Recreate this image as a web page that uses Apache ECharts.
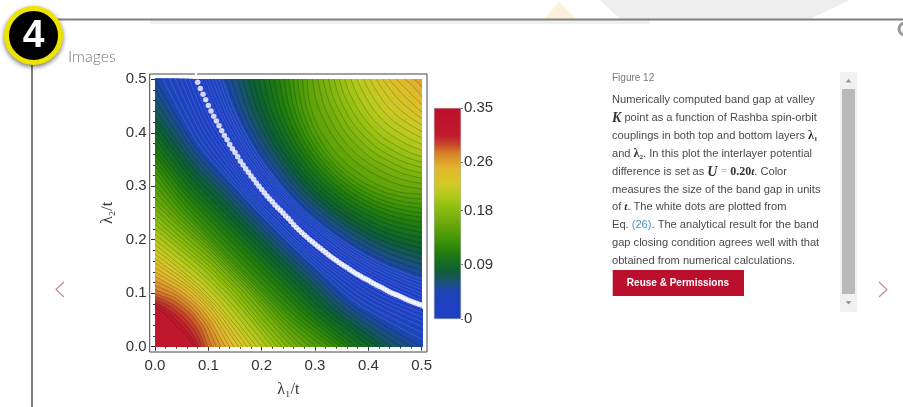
<!DOCTYPE html>
<html><head><meta charset="utf-8">
<style>html,body{margin:0;padding:0;background:#fff}#c{width:903px;height:407px}</style>
<script src="https://cdn.jsdelivr.net/npm/echarts@6/dist/echarts.min.js"></script>
</head><body><div id="c"></div>
<script>
const xTicks=[0,0.1,0.2,0.3,0.4,0.5];
const minorTicks=[0.02,0.04,0.06,0.08,0.12,0.14,0.16,0.18,0.22,0.24,0.26,0.28,0.32,0.34,0.36,0.38,0.42,0.44,0.46,0.48];
const barTicks=[0,0.09,0.18,0.26,0.35];
const rayAngles=[0,11.25,22.5,33.75,45];
const levelStep=0.00625;
// contour radii around the (0,0) corner, one row per level (k x levelStep), ascending
const lowerRadii=[
[.710,.461,.382,.349,.342],[.680,.450,.376,.344,.337],[.650,.438,.370,.340,.333],[.620,.427,.364,.335,.328],
[.590,.416,.357,.331,.324],[.560,.404,.351,.327,.320],[.530,.393,.345,.322,.315],[.500,.382,.339,.318,.311],
[.481,.373,.332,.311,.304],[.462,.363,.324,.304,.298],[.444,.354,.317,.297,.291],[.430,.345,.309,.290,.284],
[.417,.335,.300,.282,.277],[.404,.326,.292,.275,.270],[.391,.317,.284,.267,.262],[.378,.308,.276,.260,.255],
[.368,.299,.268,.252,.247],[.358,.291,.260,.245,.240],[.348,.282,.252,.237,.232],[.338,.273,.244,.229,.225],
[.328,.265,.237,.222,.218],[.315,.258,.232,.218,.214],[.302,.250,.226,.213,.209],[.290,.243,.221,.209,.205],
[.277,.236,.215,.205,.200],[.268,.230,.210,.200,.196],[.257,.222,.203,.194,.190],[.248,.214,.196,.188,.184],
[.238,.207,.190,.182,.178],[.229,.200,.184,.176,.173],[.220,.193,.178,.170,.166],[.210,.184,.170,.162,.160],
[.200,.176,.163,.156,.153],[.191,.168,.155,.149,.147],[.182,.161,.148,.142,.140],[.173,.154,.143,.137,.135],
[.165,.147,.138,.132,.131],[.157,.141,.132,.128,.126],[.148,.134,.127,.123,.122],[.140,.128,.122,.118,.117],
[.132,.121,.116,.113,.112],[.123,.115,.110,.107,.107],[.115,.108,.105,.102,.101],[.107,.101,.099,.096,.096],
[.099,.095,.093,.091,.091],[.094,.089,.086,.084,.084],[.088,.083,.080,.077,.077],[.083,.077,.073,.071,.070],
[.078,.072,.067,.064,.063],[.074,.067,.062,.058,.056]];
// contour radii around the (0.5,0.5) corner, same level numbering
const upperRadii=[
[.413,.387,.369,.357,.355],[.406,.381,.364,.353,.351],[.400,.376,.359,.349,.347],[.393,.370,.354,.344,.342],
[.387,.365,.350,.340,.338],[.380,.360,.345,.336,.334],[.374,.354,.340,.332,.330],[.367,.348,.335,.327,.325],
[.357,.340,.327,.320,.318],[.346,.331,.319,.312,.311],[.336,.322,.311,.305,.304],[.326,.313,.304,.298,.297],
[.316,.305,.296,.291,.290],[.306,.296,.288,.284,.283],[.296,.288,.281,.277,.276],[.286,.279,.273,.270,.269],
[.277,.271,.266,.263,.262],[.267,.262,.258,.256,.255],[.258,.254,.251,.249,.248],[.250,.246,.244,.242,.242],
[.241,.239,.237,.236,.235],[.233,.231,.230,.229,.229],[.224,.223,.222,.222,.222],[.215,.215,.214,.212,.212],
[.205,.202,.199,.198,.198],[.195,.191,.188,.186,.186],[.185,.180,.176,.175,.174],[.175,.170,.165,.164,.163],
[.165,.159,.155,.153,.152],[.155,.149,.144,.142,.141],[.145,.138,.133,.131,.130],[.133,.126,.121,.119,.118],
[.122,.114,.109,.107,.106],[.110,.102,.097,.095,.094],[.098,.090,.085,.083,.082],[.086,.078,.073,.071,.070],
[.074,.066,.061,.059,.058],[.062,.054,.049,.047,.046],[.048,.041,.037,.035,.034],[.033,.027,.024,.022,.022],
[.016,.013,.011,.010,.010]];
const dotX=[.08,.085,.09,.095,.1,.105,.11,.115,.12,.125,.13,.135,.14,.145,.15,.155,.16,.165,.17,.175,.18,.185,.19,.195,.2,.205,.21,.215,.22,.225,.23,.235,.24,.245,.25,.255,.26,.265,.27,.275,.28,.285,.29,.295,.3,.305,.31,.315,.32,.325,.33,.335,.34,.345,.35,.355,.36,.365,.37,.375,.38,.385,.39,.395,.4,.405,.41,.415,.42,.425,.43,.435,.44,.445,.45,.455,.46,.465,.47,.475,.48,.485,.49,.495,.5];
const dotY=[.4945,.483,.472,.462,.451,.441,.431,.422,.413,.404,.395,.387,.378,.37,.363,.355,.347,.34,.333,.326,.319,.313,.306,.3,.294,.288,.282,.276,.271,.265,.26,.255,.25,.2445,.2395,.234,.228,.223,.218,.2135,.209,.2045,.2,.196,.192,.188,.184,.18,.176,.172,.168,.1645,.161,.1575,.154,.151,.148,.1445,.141,.138,.135,.132,.129,.1265,.124,.121,.118,.1155,.113,.1105,.108,.105,.102,.1,.098,.096,.094,.0915,.089,.087,.085,.083,.081,.0795,.078];
const colorValues=[0,.044,.059,.08,.108,.13,.158,.185,.208,.225,.25,.275,.29,.305,.35];
const colorHex=['#1f3ec6','#1d44b8','#1a4f80','#0d5f35','#1f7a10','#3d9408','#6aa80a','#8fbe10','#b9ca1e','#d2c828','#e3b82d','#d8802a','#c4452a','#bf1a2c','#bf0f2a'];
const captionLines=[
'Numerically computed band gap at valley',
'{m|K} point as a function of Rashba spin-orbit',
'couplings in both top and bottom layers {s|λ₁}',
'and {s|λ₂}. In this plot the interlayer potential',
'difference is set as {m|U}{e| = }{b|0.20}{i|t}. Color',
'measures the size of the band gap in units',
'of {i|t}. The white dots are plotted from',
'Eq. {l|(26)}. The analytical result for the band',
'gap closing condition agrees well with that',
'obtained from numerical calculations.'];
const captionY=[100,118,136,154,172,190,207,225,243,261];

const rad=d=>d*Math.PI/180;
function colorAt(v){
  for(let i=1;i<colorValues.length;i++){
    if(v<=colorValues[i]){
      const t=(v-colorValues[i-1])/(colorValues[i]-colorValues[i-1]);
      return echarts.color.lerp(t,[colorHex[i-1],colorHex[i]]);
    }
  }
  return colorHex[colorHex.length-1];
}
function lowerCurve(r){
  const p=[];
  for(let j=0;j<5;j++)p.push([r[j]*Math.sin(rad(rayAngles[j])),r[j]*Math.cos(rad(rayAngles[j]))]);
  for(let j=3;j>=0;j--)p.push([r[j]*Math.cos(rad(rayAngles[j])),r[j]*Math.sin(rad(rayAngles[j]))]);
  return p;
}
function upperCurve(r){
  const p=[];
  for(let j=0;j<5;j++)p.push([.5-r[j]*Math.cos(rad(rayAngles[j])),.5-r[j]*Math.sin(rad(rayAngles[j]))]);
  for(let j=3;j>=0;j--)p.push([.5-r[j]*Math.sin(rad(rayAngles[j])),.5-r[j]*Math.cos(rad(rayAngles[j]))]);
  return p;
}
function contour(data,k,origin){
  const v=(k+1)*levelStep;
  return {type:'line',xAxisIndex:2,yAxisIndex:2,data,smooth:0.35,showSymbol:false,silent:true,clip:true,
    lineStyle:{width:0.7,color:v<0.045?'rgba(120,150,255,0.45)':'rgba(10,25,30,0.34)'},
    areaStyle:{origin,opacity:1,color:colorAt((k+1.5)*levelStep)}};
}
const series=[];
lowerRadii.forEach((r,k)=>series.push(contour(lowerCurve(r),k,'start')));
upperRadii.forEach((r,k)=>series.push(contour(upperCurve(r),k,'end')));
series.push({type:'scatter',xAxisIndex:0,yAxisIndex:0,data:dotX.map((x,i)=>[x,dotY[i]]),symbolSize:5.5,
  itemStyle:{color:'#fff'},silent:true,z:10});
series.push({type:'bar',xAxisIndex:3,yAxisIndex:3,data:[barTicks[barTicks.length-1]],barWidth:'100%',silent:true,
  itemStyle:{color:new echarts.graphic.LinearGradient(0,0,0,1,
    colorValues.map((v,i)=>({offset:1-v/0.35,color:colorHex[i]})).reverse()),borderColor:'#999',borderWidth:0.5}});

const frame={left:149.7,top:74,width:277.3,height:278};
const lab={color:'#333',fontSize:15,fontFamily:'Liberation Sans'};
const tickLine={color:'#333',width:1};
function fx(pos,vals,len,labels,extra){
  return Object.assign({type:'value',gridIndex:labels===2?1:0,position:pos,min:-0.01,max:0.51,
    axisLine:{show:false},splitLine:{show:false},
    axisTick:{show:true,inside:true,length:len,lineStyle:tickLine,customValues:vals},
    axisLabel:labels===1?{show:true,customValues:vals,formatter:v=>v.toFixed(1),margin:pos==='left'?3:6,...lab}:{show:false}},extra||{});
}
const sub={fontFamily:'Liberation Serif',fontSize:16,color:'#333'};
const option={
  animation:false,backgroundColor:'#fff',
  grid:[
    {...frame,show:true,borderColor:'#444',borderWidth:1,backgroundColor:'transparent',z:3},
    {...frame,z:3},
    {left:155,top:79,width:267,height:268,show:true,backgroundColor:colorHex[0],borderWidth:0},
    {left:434,top:108,width:27,height:211}
  ],
  xAxis:[
    fx('bottom',xTicks,4,1,{name:'λ₁/t',nameLocation:'middle',nameGap:30,nameTextStyle:sub}),
    fx('bottom',minorTicks,2,2),
    {type:'value',gridIndex:2,min:0,max:0.5,show:false},
    {type:'category',gridIndex:3,data:[''],show:false},
    fx('top',xTicks,4,0),
    fx('top',minorTicks,2,2)
  ],
  yAxis:[
    fx('left',xTicks,4,1,{name:'λ₂/t',nameLocation:'middle',nameGap:34,nameTextStyle:sub}),
    fx('left',minorTicks,2,2),
    {type:'value',gridIndex:2,min:0,max:0.5,show:false},
    {type:'value',gridIndex:3,position:'right',min:0,max:0.35,splitLine:{show:false},axisLine:{show:false},
      axisTick:{show:true,length:2,lineStyle:{color:'#777'},customValues:barTicks},
      axisLabel:{show:true,customValues:barTicks,margin:3,formatter:v=>String(v),...lab}},
    fx('right',xTicks,4,0),
    fx('right',minorTicks,2,2)
  ],
  series,
  graphic:{elements:[
    {type:'polygon',z:1,shape:{points:[[600,0],[620,19],[810,19],[850,0]]},style:{fill:'#eeeeee'}},
    {type:'polygon',z:1,shape:{points:[[544,19],[559,2],[576,19]]},style:{fill:'#fdf1da'}},
    {type:'rect',z:1,shape:{x:150,y:20,width:500,height:4},style:{fill:'#efefef'}},
    {type:'circle',z:1,shape:{cx:905,cy:29,r:6},style:{fill:'none',stroke:'#999',lineWidth:3}},
    {type:'line',z:2,shape:{x1:55,y1:19.5,x2:903,y2:19.5},style:{stroke:'#7f7f7f',lineWidth:2}},
    {type:'line',z:2,shape:{x1:32,y1:60,x2:32,y2:407},style:{stroke:'#7f7f7f',lineWidth:2}},
    {type:'circle',z:5,shape:{cx:33.5,cy:35.5,r:27},style:{fill:'#000',stroke:'#efe400',lineWidth:5,shadowBlur:5,shadowOffsetY:2,shadowColor:'rgba(0,0,0,0.45)'}},
    {type:'text',z:6,x:33.5,y:36,style:{text:'4',font:'bold 39px "Liberation Sans"',fill:'#fff',align:'center',verticalAlign:'middle'}},
    {type:'text',z:6,x:68,y:57,style:{text:'Images',font:'300 16px Lato',fill:'#777',verticalAlign:'middle'}},
    {type:'rect',z:20,shape:{x:195,y:72,width:2,height:5},style:{fill:'#fff'}},
    {type:'polyline',z:6,shape:{points:[[64,282],[56,289.5],[64,297]]},style:{fill:'none',stroke:'#c98aa0',lineWidth:1.2}},
    {type:'polyline',z:6,shape:{points:[[879,282],[887,289.5],[879,297]]},style:{fill:'none',stroke:'#c98aa0',lineWidth:1.2}},
    {type:'text',z:6,x:612,y:78,style:{text:'Figure 12',font:'10px "Liberation Sans"',fill:'#777',verticalAlign:'middle'}},
    ...captionLines.map((t,i)=>({type:'text',z:6,x:612,y:captionY[i],style:{text:t,font:'11.1px "Liberation Sans"',fill:'#4a4a4a',verticalAlign:'middle',
      rich:{m:{fontFamily:'Liberation Serif',fontStyle:'italic',fontWeight:'bold',fontSize:14,fill:'#333'},
        s:{fontFamily:'Liberation Serif',fontWeight:'bold',fontSize:12,fill:'#333'},
        e:{fontFamily:'Liberation Serif',fontSize:12,fill:'#aaa'},
        b:{fontFamily:'Liberation Serif',fontWeight:'bold',fontSize:12,fill:'#333'},
        i:{fontFamily:'Liberation Serif',fontStyle:'italic',fontWeight:'bold',fontSize:11,fill:'#333'},
        l:{fontFamily:'Liberation Sans',fontSize:11.1,fill:'#4a90c4'}}}})),
    {type:'rect',z:6,shape:{x:612.7,y:270,width:131.3,height:26},style:{fill:'#bb0f2e'}},
    {type:'text',z:7,x:678,y:283,style:{text:'Reuse & Permissions',font:'bold 10px "Liberation Sans"',fill:'#fff',align:'center',verticalAlign:'middle'}},
    {type:'rect',z:6,shape:{x:840,y:72,width:17,height:240},style:{fill:'#f1f1f1'}},
    {type:'rect',z:7,shape:{x:842,y:89,width:13,height:205},style:{fill:'#b9b9b9'}},
    {type:'polygon',z:7,shape:{points:[[845.5,82.5],[848.5,79],[851.5,82.5]]},style:{fill:'#999'}},
    {type:'polygon',z:7,shape:{points:[[845.5,301],[848.5,304.5],[851.5,301]]},style:{fill:'#999'}}
  ]}
};
echarts.init(document.getElementById('c'),null,{renderer:'canvas'}).setOption(option);
</script></body></html>
